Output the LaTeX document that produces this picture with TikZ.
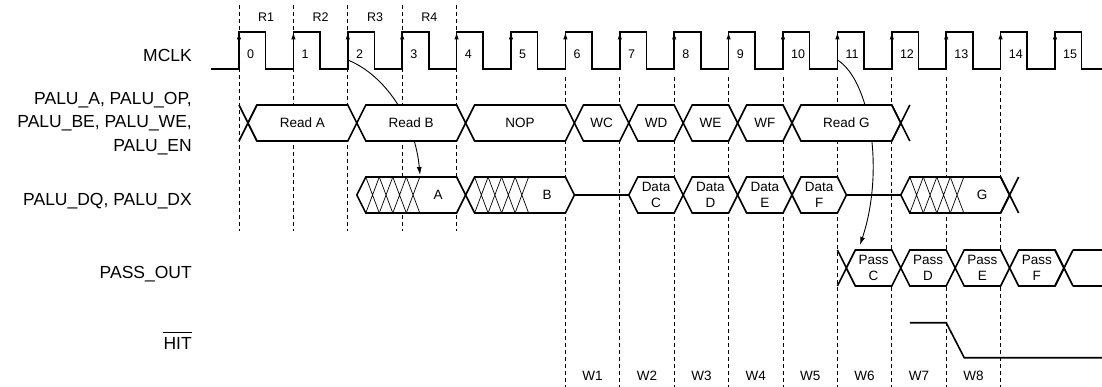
\documentclass[tikz,border=0pt]{standalone}
\usepackage{fontspec}
\setmainfont{Liberation Sans}
\usepackage{tikz}
\usetikzlibrary{arrows.meta}
% x position of clock edge #1
\newcommand{\ek}[1]{(239+54.4*(#1))}
\tikzset{
	sig/.style      ={line width=1.6pt},
	bus/.style      ={line width=1.6pt, line join=miter},
	hatchl/.style   ={line width=0.7pt},
	grid/.style     ={line width=0.8pt, dash pattern=on 4pt off 3pt},
	edgearr/.style  ={line width=1pt, -{Latex[length=7pt,width=4.5pt]}},
	cause/.style    ={line width=0.9pt, -{Latex[length=8pt,width=5pt]}},
	buslbl/.style   ={font=\fontsize{13.5}{16}\selectfont, align=center, inner sep=0pt},
	numlbl/.style   ={font=\fontsize{12.5}{15}\selectfont, inner sep=0pt},
	siglbl/.style   ={font=\fontsize{17.5}{23.5}\selectfont, align=right, inner sep=0pt},
}
% bus value between edges #1 and #2, row #3
\newcommand{\busval}[4]{%
	\draw[bus, fill=white] ({\ek{#1}+9},#3) -- ({\ek{#1}+18},{#3-18}) -- ({\ek{#2}},{#3-18})
		-- ({\ek{#2}+9},#3) -- ({\ek{#2}},{#3+18}) -- ({\ek{#1}+18},{#3+18}) -- cycle;
	\node[buslbl] (v-#1-#3) at ({(\ek{#1}+18+\ek{#2})/2},#3) {#4};}
% same, with the unknown (hatched) part first
\newcommand{\busvalh}[4]{%
	\draw[bus, fill=white] ({\ek{#1}+9},#3) -- ({\ek{#1}+18},{#3-18}) -- ({\ek{#2}},{#3-18})
		-- ({\ek{#2}+9},#3) -- ({\ek{#2}},{#3+18}) -- ({\ek{#1}+18},{#3+18}) -- cycle;
	\foreach \i in {0,...,3}
		\draw[hatchl] ({\ek{#1}+18+13.5*\i},{#3-18}) -- ({\ek{#1}+18+13.5*(\i+1)},{#3+18})
			({\ek{#1}+18+13.5*\i},{#3+18}) -- ({\ek{#1}+18+13.5*(\i+1)},{#3-18});
	\node[buslbl] (v-#1-#3) at ({(\ek{#1}+72+\ek{#2})/2},#3) {#4};}
% loose crossing at edge #1, row #2
\newcommand{\busx}[2]{%
	\draw[bus] ({\ek{#1}},{#2-18}) -- ({\ek{#1}+18},{#2+18})
		({\ek{#1}},{#2+18}) -- ({\ek{#1}+18},{#2-18});}

\begin{document}
\begin{tikzpicture}[x=1pt, y=-1pt]
	\useasboundingbox (0,0) rectangle (1102,387);
	% grid
	\foreach \k in {0,...,4}
		\draw[grid] ({\ek{\k}},5) -- ({\ek{\k}},231);
	\foreach \k in {6,...,14}
		\draw[grid] ({\ek{\k}},77) -- ({\ek{\k}},387);
	% cause arrows
	\coordinate (rise2) at ({\ek{2}},60);
	\coordinate (dqa) at (420,175);
	\coordinate (rise11) at ({\ek{11}},60);
	\coordinate (passc) at (860,245);
	\draw[cause] (rise2) .. controls (385,75) and (415,120) .. (dqa);
	\draw[cause] (rise11) .. controls (870,80) and (885,170) .. (passc);
	% clock
	\draw[sig] (211,69) \foreach \k in {0,...,15} {
		-- ({\ek{\k}},69) -- ({\ek{\k}},32) -- ({\ek{\k}+26.5},32) -- ({\ek{\k}+26.5},69)} -- (1102,69);
	\foreach \k in {0,...,15} {
		\draw[edgearr] ({\ek{\k}},50) -- ({\ek{\k}},32.5);
		\node[numlbl, anchor=west] (c\k) at ({\ek{\k}+8},54) {\k};
	}
	\foreach \k/\r in {0/R1,1/R2,2/R3,3/R4}
		\node[numlbl] (r\k) at ({\ek{\k}+27.2},17) {\r};
	% PALU_A ... row
	\busx{0}{123}
	\busval{0}{2}{123}{Read A}
	\busval{2}{4}{123}{Read B}
	\busval{4}{6}{123}{NOP}
	\busval{6}{7}{123}{WC}
	\busval{7}{8}{123}{WD}
	\busval{8}{9}{123}{WE}
	\busval{9}{10}{123}{WF}
	\busval{10}{12}{123}{Read G}
	\busx{12}{123}
	% PALU_DQ row
	\draw[bus] ({\ek{6}+9},195) -- ({\ek{7}+9},195);
	\draw[bus] ({\ek{11}+9},195) -- ({\ek{12}+9},195);
	\busvalh{2}{4}{195}{A}
	\busvalh{4}{6}{195}{B}
	\busval{7}{8}{195}{Data\\C}
	\busval{8}{9}{195}{Data\\D}
	\busval{9}{10}{195}{Data\\E}
	\busval{10}{11}{195}{Data\\F}
	\busvalh{12}{14}{195}{G}
	\busx{14}{195}
	% PASS_OUT row
	\busx{11}{268}
	\busval{11}{12}{268}{Pass\\C}
	\busval{12}{13}{268}{Pass\\D}
	\busval{13}{14}{268}{Pass\\E}
	\busval{14}{15}{268}{Pass\\F}
	\busx{15}{268}
	\draw[bus] ({\ek{15}+18},250) -- (1102,250) ({\ek{15}+18},286) -- (1102,286);
	% HIT
	\draw[sig] ({\ek{12}+18},322.7) -- ({\ek{13}},322.7) -- ({\ek{13}+18},357.7) -- (1102,357.7);
	% window labels
	\foreach \k in {1,...,8}
		\node[buslbl] (w\k) at ({\ek{\k+5}+27.2},376) {W\k};
	% signal names
	\node[siglbl, anchor=base east] (l-clk) at (192,61.3) {MCLK};
	\node[siglbl, anchor=east] (l-palu) at (192,123.5) {PALU\_A, PALU\_OP,\\PALU\_BE, PALU\_WE,\\PALU\_EN};
	\node[siglbl, anchor=base east] (l-dq) at (192,206) {PALU\_DQ, PALU\_DX};
	\node[siglbl, anchor=base east] (l-pass) at (192,278) {PASS\_OUT};
	\node[siglbl, anchor=base east] (l-hit) at (192,349.5) {HIT};
	\draw[line width=0.8pt] ([yshift=4.5pt]l-hit.north west) -- ([yshift=4.5pt]l-hit.north east);
\end{tikzpicture}
\end{document}
